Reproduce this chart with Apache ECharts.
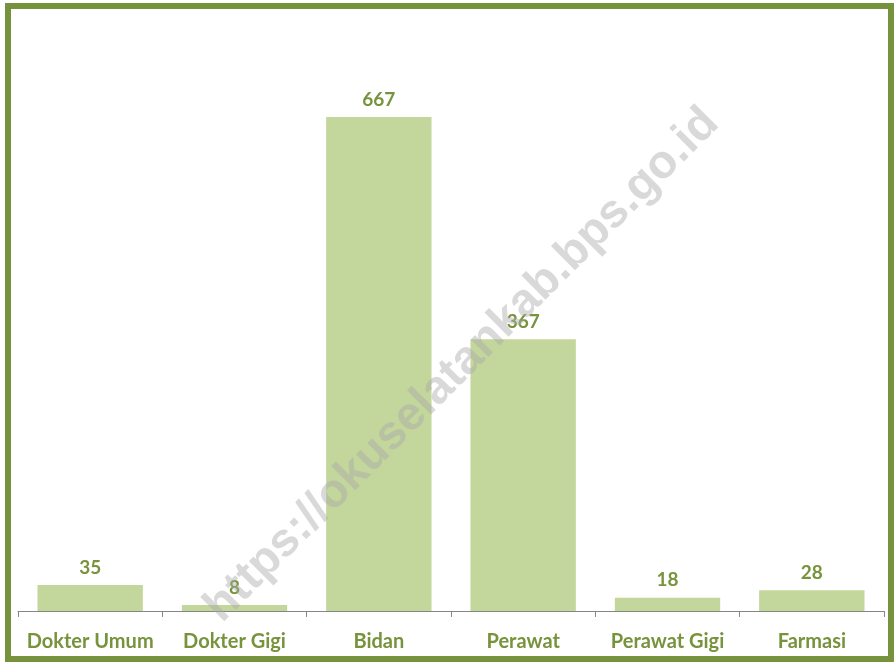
<!DOCTYPE html>
<html>
<head>
<meta charset="utf-8">
<script src="https://cdn.jsdelivr.net/npm/echarts@6/dist/echarts.min.js"></script>
<style>
  html, body { margin: 0; padding: 0; background: #fff; }
  #chart { width: 894px; height: 662px; }
</style>
</head>
<body>
<div id="chart"></div>
<script>
const categories = ["Dokter Umum", "Dokter Gigi", "Bidan", "Perawat", "Perawat Gigi", "Farmasi"];
const values = [35, 8, 667, 367, 18, 28];

const green = "#77933c";
const chart = echarts.init(document.getElementById("chart"));

chart.setOption({
  backgroundColor: "#fff",
  animation: false,
  grid: { left: 18, right: 10, top: 18.5, bottom: 51, containLabel: false },
  xAxis: {
    type: "category",
    data: categories,
    axisLine: { lineStyle: { color: "#868686", width: 1 } },
    axisTick: { show: true, length: 6, lineStyle: { color: "#868686" } },
    axisLabel: {
      color: green, fontFamily: "Lato", fontWeight: "bold",
      fontSize: 20, margin: 21, interval: 0
    }
  },
  yAxis: {
    type: "value", min: 0, max: 800, interval: 100,
    show: false, splitLine: { show: false }
  },
  series: [{
    type: "bar",
    data: values,
    barWidth: "73%",
    itemStyle: { color: "#c3d69b" },
    label: {
      show: true, position: "top", distance: 8,
      color: green, fontFamily: "Lato", fontWeight: "bold", fontSize: 19
    }
  }],
  graphic: [
    {
      type: "rect", z: 100, silent: true,
      shape: { x: 8, y: 6, width: 883, height: 653 },
      style: { fill: "none", stroke: "#76923c", lineWidth: 6 }
    },
    {
      type: "text", z: 50, silent: true,
      x: 462, y: 365, rotation: Math.PI / 4,
      style: {
        text: "https://okuselatankab.bps.go.id",
        fill: "rgba(170,170,170,0.45)",
        font: "bold 47px 'Liberation Sans'",
        align: "center", verticalAlign: "middle"
      }
    }
  ]
});
</script>
</body>
</html>
